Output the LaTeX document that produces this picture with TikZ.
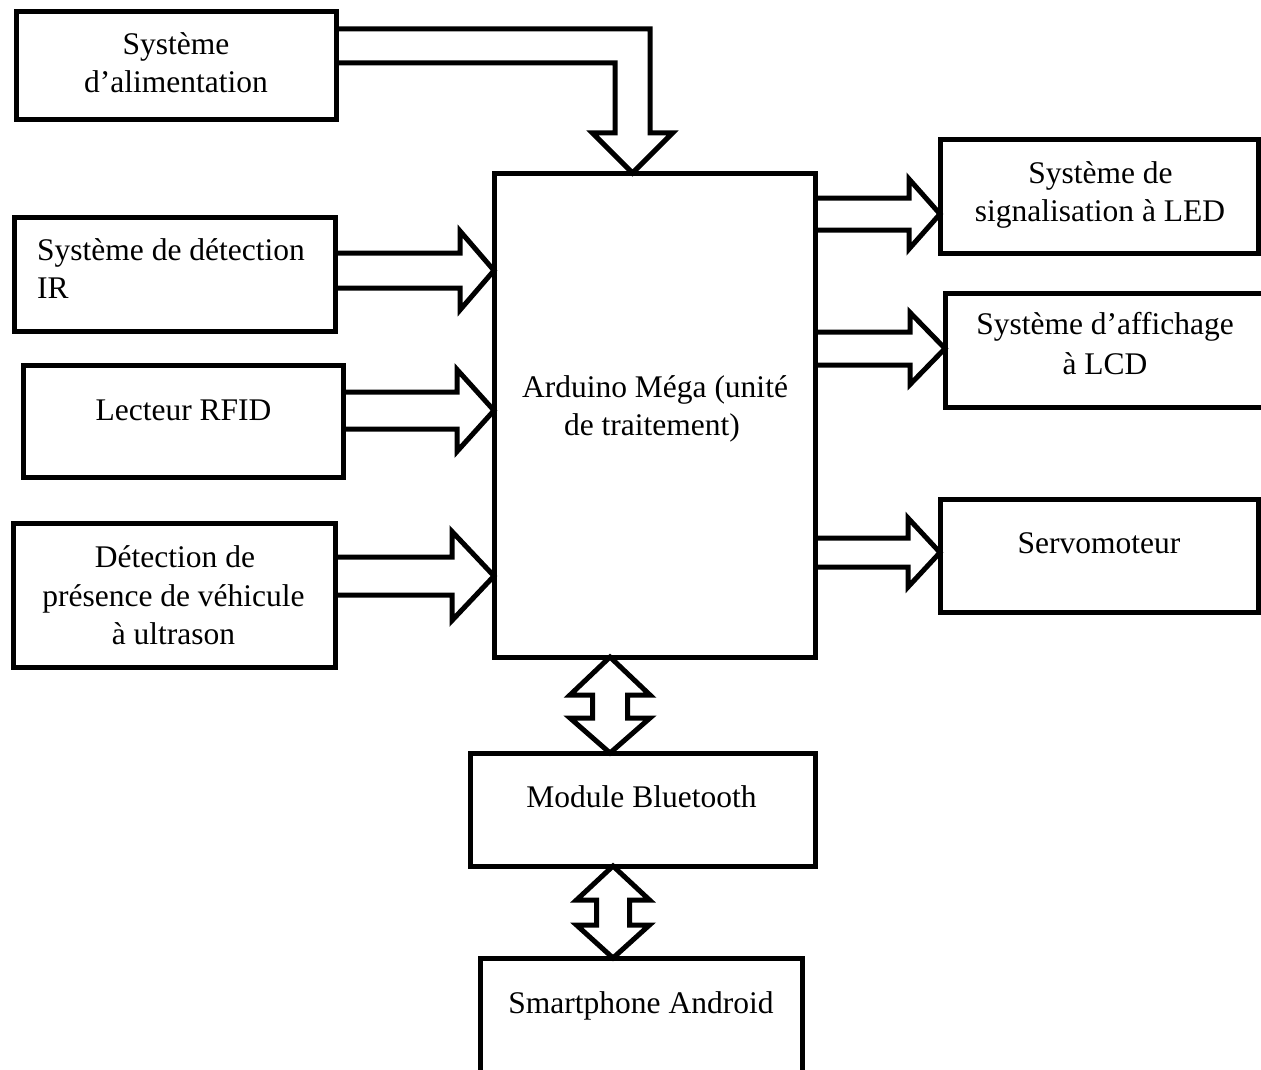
\documentclass[tikz,border=0pt]{standalone}
\usepackage{fontspec}
\setmainfont{Liberation Serif}
\usetikzlibrary{calc}
\tikzset{
  box/.style={draw, line width=5pt, outer sep=0pt, inner sep=0pt},
  fat/.style={draw, line width=5pt, line join=miter},
  lbl/.style={anchor=base, inner sep=0pt, font=\fontsize{31.5}{39}\selectfont},
}
% #1 source node, #2 target node, #3 axis y, #4 half shaft, #5 half head, #6 head length
\newcommand\rightfat[6]{%
  \path (#1.east |- 0,#3) coordinate (s) (#2.west |- 0,#3) coordinate (t);
  \draw[fat] ($(s)+(0,-#4)$) -- ($(t)+(-#6,-#4)$) -- ($(t)+(-#6,-#5)$) -- (t)
    -- ($(t)+(-#6,#5)$) -- ($(t)+(-#6,#4)$) -- ($(s)+(0,#4)$);
}
% #1 upper node, #2 lower node, #3 axis x, #4 half shaft, #5 half head, #6 top head length, #7 bottom head length
\newcommand\vdoublefat[7]{%
  \path (#1.south -| #3,0) coordinate (a) (#2.north -| #3,0) coordinate (b);
  \draw[fat] (a) -- ($(a)+(#5,#6)$) -- ($(a)+(#4,#6)$) -- ($(b)+(#4,-#7)$)
    -- ($(b)+(#5,-#7)$) -- (b) -- ($(b)+(-#5,-#7)$) -- ($(b)+(-#4,-#7)$)
    -- ($(a)+(-#4,#6)$) -- ($(a)+(-#5,#6)$) -- cycle;
}
\begin{document}
\begin{tikzpicture}[x=1pt,y=-1pt]
\useasboundingbox (0,0) rectangle (1261,1070);
\clip (0,0) rectangle (1261,1070);

% boxes
\node[box, minimum width=320pt, minimum height=108pt] (ali) at (176,66) {};
\node[box, minimum width=321pt, minimum height=114pt] (ir) at (174.5,274) {};
\node[box, minimum width=320pt, minimum height=112pt] (rfid) at (183,421) {};
\node[box, minimum width=322pt, minimum height=144pt] (det) at (174,595) {};
\node[box, minimum width=321pt, minimum height=484pt] (ard) at (654.5,415) {};
\node[box, minimum width=318pt, minimum height=113pt] (led) at (1099,196.5) {};
\node[box, minimum width=330pt, minimum height=114pt] (lcd) at (1110,350) {};
\node[box, minimum width=318pt, minimum height=113pt] (serv) at (1099,555.5) {};
\node[box, minimum width=345pt, minimum height=113pt] (bt) at (642.5,809.5) {};
\node[box, minimum width=322pt, minimum height=122pt] (sp) at (641,1019) {};

% labels
\node[lbl] (t1a) at (176,55) {Système};
\node[lbl] (t1b) at (176,93) {d’alimentation};
\node[lbl, anchor=base west] (t2a) at (37,260) {Système de détection};
\node[lbl, anchor=base west] (t2b) at (37,298) {IR};
\node[lbl] (t3) at (183.5,420) {Lecteur RFID};
\node[lbl] (t4a) at (175,567) {Détection de};
\node[lbl] (t4b) at (173.5,606) {présence de véhicule};
\node[lbl] (t4c) at (173.5,644) {à ultrason};
\node[lbl] (t5a) at (655,397) {Arduino Méga (unité};
\node[lbl] (t5b) at (652,435) {de traitement)};
\node[lbl] (t6a) at (1100.5,183) {Système de};
\node[lbl] (t6b) at (1100,221) {signalisation à LED};
\node[lbl] (t7a) at (1105,334) {Système d’affichage};
\node[lbl] (t7b) at (1105,374) {à LCD};
\node[lbl] (t8) at (1099,553) {Servomoteur};
\node[lbl] (t9) at (641.5,807) {Module Bluetooth};
\node[lbl] (t10) at (641,1013) {Smartphone Android};

% bent arrow from power supply
\path (ali.east |- 0,46) coordinate (s) (ard.north -| 632.5,0) coordinate (t);
\draw[fat] ($(s)+(0,-17)$) -- ($(t|-s)+(17.5,-17)$) -- ($(t)+(17.5,-40)$)
  -- ($(t)+(40,-40)$) -- (t) -- ($(t)+(-40,-40)$) -- ($(t)+(-17.5,-40)$)
  -- ($(t|-s)+(-17.5,17)$) -- ($(s)+(0,17)$);

% input arrows
\rightfat{ir}{ard}{270.5}{17.5}{39.5}{34}
\rightfat{rfid}{ard}{410.5}{18.5}{41}{37}
\rightfat{det}{ard}{576}{19}{44.5}{42}

% output arrows
\rightfat{ard}{led}{214}{16}{35}{31}
\rightfat{ard}{lcd}{348.5}{16.5}{36}{35}
\rightfat{ard}{serv}{552.5}{14.5}{34.5}{32}

% bidirectional arrows
\vdoublefat{ard}{bt}{610}{17.5}{40}{38}{35}
\vdoublefat{bt}{sp}{613}{16.5}{36.5}{34}{33}
\end{tikzpicture}
\end{document}
